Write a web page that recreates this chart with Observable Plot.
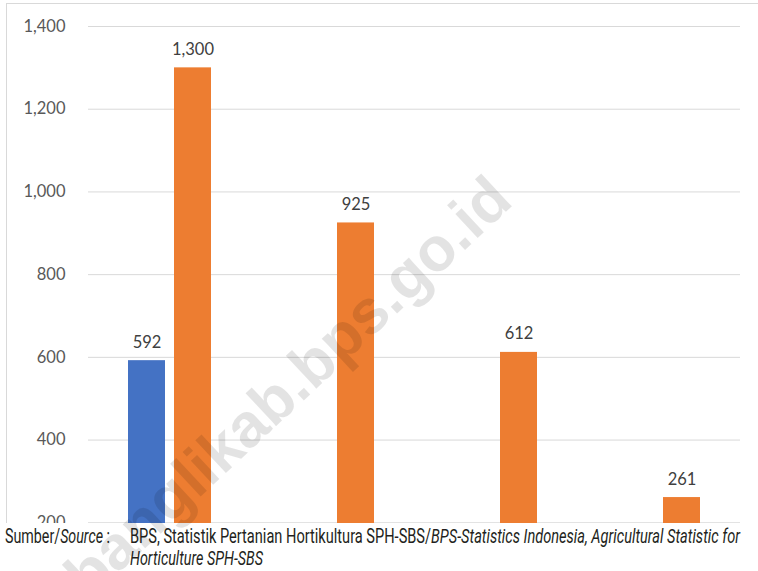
<!DOCTYPE html>
<html>
<head>
<meta charset="utf-8">
<script src="https://cdn.jsdelivr.net/npm/d3@7"></script>
<script src="https://cdn.jsdelivr.net/npm/@observablehq/plot@0.6"></script>
<style>
  html, body { margin: 0; padding: 0; background: #fff; }
  #wrap { position: relative; width: 758px; height: 571px; overflow: hidden; background: #fff; }
  #chart { position: absolute; left: 0; top: 0; width: 758px; height: 523px; overflow: hidden; }
  #frame { position: absolute; left: 6px; top: 3px; width: 800px; height: 519px;
           border-top: 1px solid #d9d9d9; border-left: 1px solid #d9d9d9; pointer-events: none; }
  #caption { position: absolute; left: 0; top: 523px; width: 758px; height: 48px; background: #fff;
             font-family: Roboto, sans-serif; font-size: 20px; color: #231f20; }
  #caption .ln { position: absolute; white-space: nowrap; transform-origin: 0 0; line-height: 22px; }
  #wm { position: absolute; left: 0; top: 0; pointer-events: none; }
</style>
</head>
<body>
<div id="wrap">
  <div id="chart"></div>
  <div id="frame"></div>
  <div id="caption">
    <div class="ln" id="c0" style="left:5px;top:2px">Sumber/<i>Source</i> :</div>
    <div class="ln" id="c1" style="left:130px;top:2px">BPS, Statistik Pertanian Hortikultura SPH-SBS/<i>BPS-Statistics Indonesia, Agricultural Statistic for</i></div>
    <div class="ln" id="c2" style="left:130px;top:24px"><i>Horticulture SPH-SBS</i></div>
  </div>
</div>
<script>
// ---- data ----
const categories = ["Kategori 1", "Kategori 2", "Kategori 3", "Kategori 4"];
const series = ["Seri 1", "Seri 2"];
const seriesColors = ["#4472C4", "#ED7D31"];
const seri1Values = [592, null, null, null];
const seri2Values = [1300, 925, 612, 261];
const yTicks = [0, 200, 400, 600, 800, 1000, 1200, 1400];
const watermarkText = "banglikab.bps.go.id";

const rows = [];
categories.forEach((c, i) => {
  if (seri1Values[i] != null) rows.push({category: c, series: series[0], value: seri1Values[i]});
  if (seri2Values[i] != null) rows.push({category: c, series: series[1], value: seri2Values[i]});
});

const fmt = d3.format(",");

const chart = Plot.plot({
  width: 758,
  height: 625,
  marginLeft: 88,
  marginRight: 18,
  marginTop: 26,
  marginBottom: 20,
  style: { fontFamily: "Lato, sans-serif", fontSize: "16.5px", color: "#595959", background: "transparent" },
  fx: { domain: categories, padding: 0, axis: null },
  x: { domain: series, paddingInner: 0.2, paddingOuter: 0.85, axis: null },
  y: { domain: [0, 1400], ticks: yTicks, tickFormat: fmt, tickSize: 0, tickPadding: 23, label: null },
  color: { domain: series, range: seriesColors },
  marks: [
    Plot.ruleY(yTicks, { stroke: "#d9d9d9", strokeWidth: 1 }),
    Plot.barY(rows, { fx: "category", x: "series", y: "value", fill: "series" }),
    Plot.text(rows, { fx: "category", x: "series", y: "value", text: d => fmt(d.value),
                      lineAnchor: "bottom", dy: -13, fill: "#404040", fontSize: 16.5 })
  ]
});
document.getElementById("chart").appendChild(chart);

// fit caption lines to the reference widths
[["c0", 105], ["c1", 610], ["c2", 133]].forEach(([id, w]) => {
  const el = document.getElementById(id);
  const cw = el.getBoundingClientRect().width;
  el.style.transform = `scaleX(${w / cw})`;
});

// watermark overlay
const svg = d3.select("#wrap").append("svg").attr("id", "wm").attr("width", 758).attr("height", 571);
svg.append("text")
  .attr("transform", "translate(302,402) rotate(-43)")
  .attr("text-anchor", "middle")
  .attr("font-family", "Liberation Sans, Arial, sans-serif")
  .attr("font-weight", "bold")
  .attr("font-size", 62)
  .attr("fill", "#000")
  .attr("fill-opacity", 0.11)
  .text(watermarkText);
</script>
</body>
</html>
